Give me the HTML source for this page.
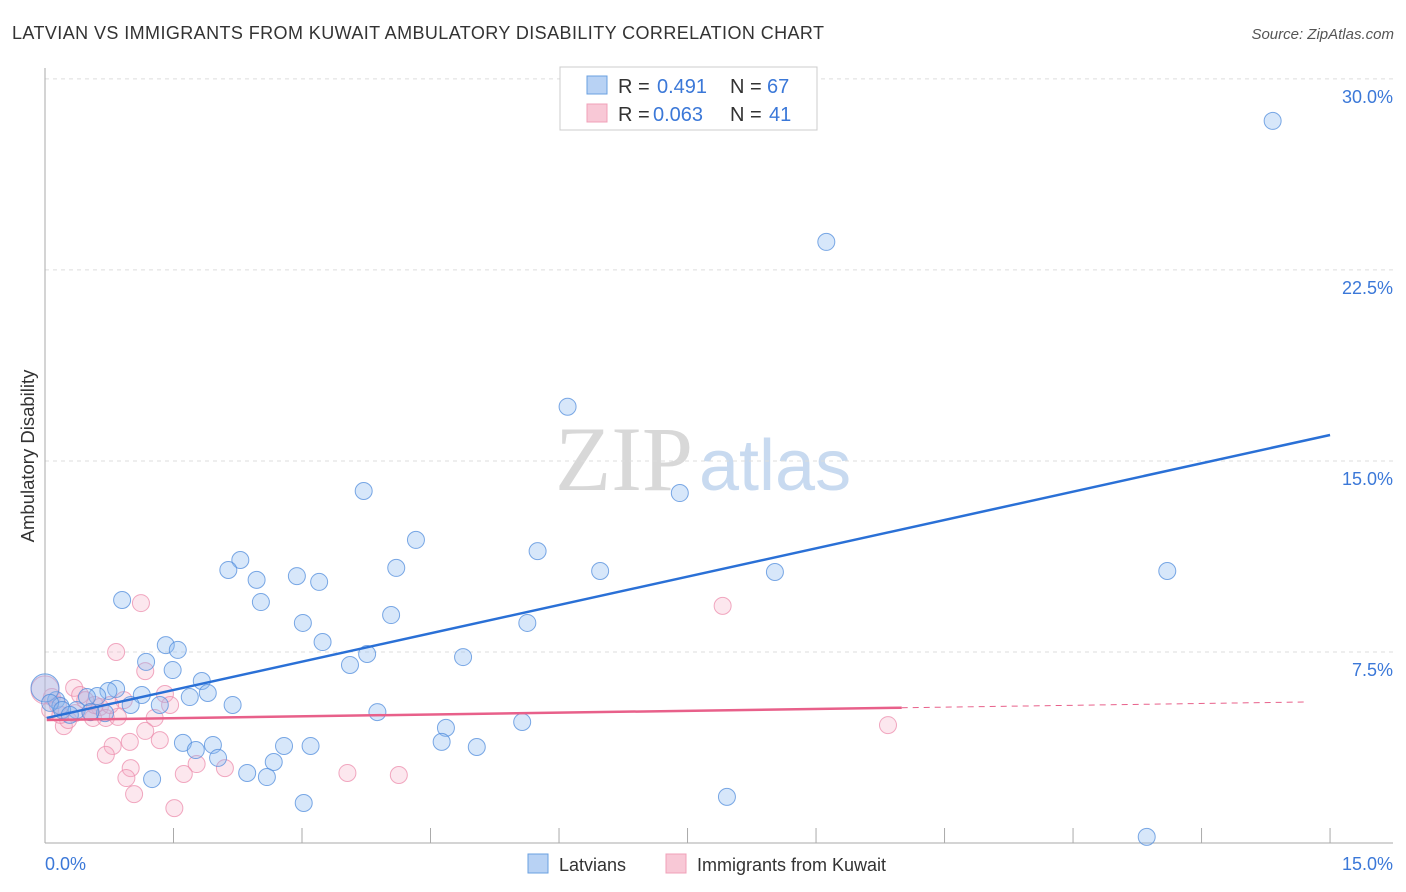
<!DOCTYPE html>
<html><head><meta charset="utf-8"><style>
body{margin:0;background:#fff;font-family:"Liberation Sans",sans-serif;}
svg{display:block}
</style></head><body>
<svg id="chart" width="1406" height="892" xmlns="http://www.w3.org/2000/svg">
<text x="12" y="39" font-size="18" fill="#333" textLength="812">LATVIAN VS IMMIGRANTS FROM KUWAIT AMBULATORY DISABILITY CORRELATION CHART</text>
<text x="1394" y="39" font-size="15" fill="#555" text-anchor="end" font-style="italic">Source: ZipAtlas.com</text>
<text x="555" y="490" font-size="92" fill="#d8d8d8" font-family="Liberation Serif,serif">ZIP<tspan fill="#c8daf0" font-family="Liberation Sans,sans-serif" font-size="72" dx="6">atlas</tspan></text>
<g id="grid"></g><g id="axes"></g><g id="pts"></g><g id="lines"></g>
<text transform="translate(34,456) rotate(-90)" font-size="18.5" fill="#333" text-anchor="middle">Ambulatory Disability</text>
<g>
<rect x="560" y="67" width="257" height="63" fill="#fff" stroke="#ccc"/>
<rect x="587" y="76" width="20" height="18" fill="#b8d2f4" stroke="#6aa0e0"/>
<rect x="587" y="104" width="20" height="18" fill="#f8c8d6" stroke="#f0a0b8"/>
<text x="618" y="93" font-size="20" fill="#333">R =</text>
<text x="657" y="93" font-size="20" fill="#3b78d8">0.491</text>
<text x="730" y="93" font-size="20" fill="#333">N =</text>
<text x="767" y="93" font-size="20" fill="#3b78d8">67</text>
<text x="618" y="121" font-size="20" fill="#333">R =</text>
<text x="653" y="121" font-size="20" fill="#3b78d8">0.063</text>
<text x="730" y="121" font-size="20" fill="#333">N =</text>
<text x="769" y="121" font-size="20" fill="#3b78d8">41</text>
</g>
<g>
<rect x="528" y="854" width="20" height="19" fill="#b8d2f4" stroke="#6aa0e0"/>
<text x="559" y="871" font-size="18" fill="#333">Latvians</text>
<rect x="666" y="854" width="20" height="19" fill="#f8c8d6" stroke="#f0a0b8"/>
<text x="697" y="871" font-size="18" fill="#333">Immigrants from Kuwait</text>
</g>
</svg>
<script>
const yTicks=[7.5,15,22.5,30];
const yTickLabels=["7.5%","15.0%","22.5%","30.0%"];
const xTickVals=[1.5,3,4.5,6,7.5,9,10.5,12,13.5,15];
const blueX=[14.33,9.12,6.10,3.72,7.41,4.33,5.75,2.28,2.14,4.10,6.48,2.94,8.52,13.10,2.47,3.20,0.90,2.52,4.04,3.01,5.63,3.24,1.41,1.55,3.76,1.18,3.56,4.88,1.49,1.83,0.83,0.74,1.13,1.69,1.90,0.61,0.49,1.00,1.34,2.19,0.13,0.18,0.37,0.70,3.88,5.57,4.68,1.61,1.96,1.76,2.79,3.10,4.63,5.04,2.02,2.67,2.36,2.59,1.25,3.02,7.96,12.86,0.0,0.06,0.20,0.29,0.53];
const blueY=[28.35,23.6,17.13,13.82,13.74,11.90,11.46,11.11,10.72,10.80,10.68,10.48,10.64,10.68,10.33,10.25,9.54,9.46,8.95,8.64,8.64,7.89,7.77,7.58,7.42,7.11,6.99,7.30,6.79,6.36,6.05,5.97,5.81,5.73,5.89,5.77,5.73,5.42,5.42,5.42,5.61,5.38,5.22,5.10,5.14,4.75,4.52,3.93,3.85,3.65,3.81,3.81,3.97,3.77,3.34,3.18,2.75,2.59,2.51,1.57,1.81,0.24,6.09,5.50,5.22,5.03,5.14];
const pinkX=[1.12,7.91,0.83,1.17,0.34,0.41,0.08,1.40,1.46,0.92,0.64,0.53,0.56,0.71,0.85,0.22,0.27,1.28,1.17,0.99,0.79,0.71,1.34,1.77,1.00,0.95,1.62,2.10,1.04,1.51,3.53,4.13,9.84,0.15,0.0,0.06,0.47,0.76,0.35,0.18,0.58];
const pinkY=[9.42,9.31,7.50,6.75,6.09,5.81,5.73,5.85,5.42,5.61,5.34,5.14,4.91,4.91,4.95,4.59,4.83,4.91,4.40,3.97,3.81,3.46,4.04,3.10,2.94,2.55,2.71,2.94,1.92,1.37,2.75,2.67,4.63,5.42,6.01,5.22,5.61,5.42,5.10,5.03,5.42];
const blueTrend=[4.91,16.02];
const pinkTrend=[4.83,5.55];
const NS="http://www.w3.org/2000/svg";
const X=v=>45+v*85.67, Y=v=>843-v*25.47;
function mk(t,a,p){const e=document.createElementNS(NS,t);for(const k in a)e.setAttribute(k,a[k]);document.getElementById(p).appendChild(e);return e;}
yTicks.forEach((t,i)=>{
 const g=mk('line',{x1:45,x2:1393,y1:Y(t),y2:Y(t),stroke:'#ddd','stroke-dasharray':'4,4'},'grid');
 
 
 const l=mk('text',{x:1393,y:Y(t)+24,'font-size':18,fill:'#3b78d8','text-anchor':'end'},'grid');
 l.textContent=yTickLabels[i];
 
 
});
const ax=mk('line',{x1:45,x2:45,y1:68,y2:843,stroke:'#aaa'},'axes');


const bx=mk('line',{x1:45,x2:1393,y1:843,y2:843,stroke:'#aaa'},'axes');


xTickVals.forEach(t=>{
 const k=mk('line',{x1:X(t),x2:X(t),y1:828,y2:843,stroke:'#aaa'},'axes');
 
 
});
const x0=mk('text',{x:45,y:870,'font-size':18,fill:'#3b78d8'},'axes');x0.textContent='0.0%';


const x1=mk('text',{x:1393,y:870,'font-size':18,fill:'#3b78d8','text-anchor':'end'},'axes');x1.textContent='15.0%';


function pts(xs,ys,fill,stroke,name){
 xs.forEach((v,i)=>{
  const big=(v===0);
  const c=mk('circle',{cx:X(v),cy:Y(ys[i]),r:big?14:8.5,fill:fill,stroke:stroke,'stroke-width':1},'pts');
  
  
 });
}
pts(pinkX,pinkY,'rgba(246,175,198,0.3)','rgba(236,140,172,0.75)','kuwait-point');
pts(blueX,blueY,'rgba(140,185,240,0.35)','rgba(80,140,220,0.75)','latvian-point');
const bl=mk('line',{x1:X(0.02),y1:Y(blueTrend[0]),x2:X(15),y2:Y(blueTrend[1]),stroke:'#2a70d6','stroke-width':2.5},'lines');


const py=v=>pinkTrend[0]+(pinkTrend[1]-pinkTrend[0])*v/15;
const pl=mk('line',{x1:X(0.02),y1:Y(py(0)),x2:X(10),y2:Y(py(10)),stroke:'#e8608a','stroke-width':2.5},'lines');


const pd=mk('line',{x1:X(10),y1:Y(py(10)),x2:X(14.7),y2:Y(py(14.7)),stroke:'#e8608a','stroke-width':1,'stroke-dasharray':'6,5'},'lines');


</script>
</body></html>
